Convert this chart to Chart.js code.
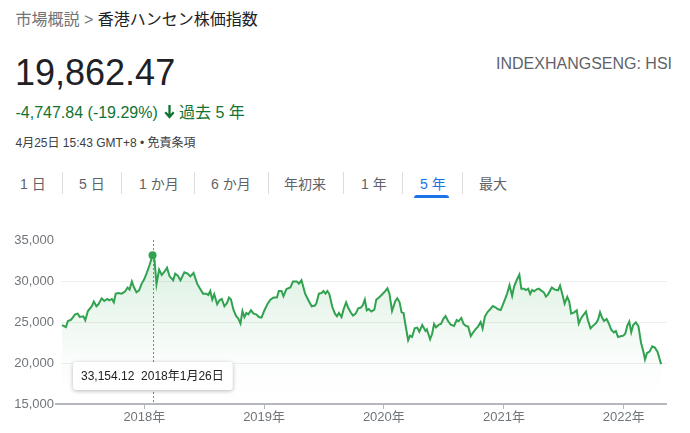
<!DOCTYPE html>
<html lang="ja">
<head>
<meta charset="utf-8">
<script src="https://cdn.jsdelivr.net/npm/chart.js@4/dist/chart.umd.min.js"></script>
<style>
  html,body{margin:0;padding:0;background:#fff;}
  body{width:690px;height:433px;overflow:hidden;position:relative;font-family:"Liberation Sans","Noto Sans CJK JP",sans-serif;}
  .t{position:absolute;white-space:nowrap;}
  .tab{position:absolute;white-space:nowrap;font-size:14px;line-height:14px;top:176.5px;color:#5f6368;}
  .sep{position:absolute;top:172px;width:1px;height:22px;background:#dadce0;}
  #chartBox{position:absolute;left:0;top:225px;width:690px;height:208px;}
</style>
</head>
<body>
<div class="t" style="left:15.5px;top:12px;font-size:16px;line-height:16px;"><span style="color:#70757a">市場概説</span><span style="color:#70757a"> &gt; </span><span style="color:#202124">香港ハンセン株価指数</span></div>

<div class="t" style="left:15px;top:55.3px;font-size:36px;line-height:36px;color:#202124;">19,862.47</div>
<div class="t" style="left:496px;top:56.2px;font-size:16px;line-height:16px;color:#5f6368;">INDEXHANGSENG: HSI</div>

<div class="t" style="left:15.5px;top:105px;font-size:16px;line-height:16px;color:#137333;">-4,747.84 (-19.29%)</div>
<svg style="position:absolute;left:163.5px;top:104px" width="11" height="15" viewBox="0 0 11 15"><path d="M5.5 1 V12.5 M1.3 8.3 L5.5 13 L9.7 8.3" stroke="#137333" stroke-width="2.3" fill="none"/></svg>
<div class="t" style="left:179px;top:105px;font-size:16px;line-height:16px;color:#137333;">過去 5 年</div>

<div class="t" style="left:15.5px;top:136.8px;font-size:12px;line-height:12px;color:#3c4043;">4月25日 15:43 GMT+8 • 免責条項</div>

<div class="tab" style="left:20px">1 日</div>
<div class="sep" style="left:62px"></div>
<div class="tab" style="left:79px">5 日</div>
<div class="sep" style="left:121px"></div>
<div class="tab" style="left:139px">1 か月</div>
<div class="sep" style="left:194px"></div>
<div class="tab" style="left:211px">6 か月</div>
<div class="sep" style="left:268px"></div>
<div class="tab" style="left:284px">年初来</div>
<div class="sep" style="left:343px"></div>
<div class="tab" style="left:361px">1 年</div>
<div class="sep" style="left:402px"></div>
<div class="tab" style="left:420px;color:#1a73e8">5 年</div>
<div class="sep" style="left:462px"></div>
<div class="tab" style="left:479px">最大</div>
<div style="position:absolute;left:414px;top:194.8px;width:35px;height:3px;background:#1a73e8;border-radius:3px 3px 0 0;"></div>

<div id="chartBox"><canvas id="c" width="690" height="208"></canvas></div>

<script>
// ---- data (weekly-ish closes) ----
const dates = [
"2017-04-25","2017-05-07","2017-05-13","2017-05-23","2017-06-04","2017-06-12","2017-06-18","2017-06-29","2017-07-05","2017-07-13",
"2017-07-25","2017-07-31","2017-08-08","2017-08-14","2017-08-24","2017-09-01","2017-09-10","2017-09-16","2017-09-24","2017-09-30",
"2017-10-06","2017-10-14","2017-10-24","2017-11-03","2017-11-11","2017-11-17","2017-11-24","2017-11-30","2017-12-08","2017-12-16",
"2017-12-24","2018-01-01","2018-01-09","2018-01-17","2018-01-26","2018-02-01","2018-02-07","2018-02-15","2018-02-23","2018-03-05",
"2018-03-11","2018-03-19","2018-03-30","2018-04-05","2018-04-13","2018-04-21",
"2018-05-03","2018-05-13","2018-05-21","2018-05-31","2018-06-11","2018-06-19","2018-06-29","2018-07-09","2018-07-15","2018-07-21",
"2018-07-27","2018-08-02","2018-08-11","2018-08-18","2018-08-25","2018-09-02","2018-09-10","2018-09-16","2018-09-22","2018-09-30",
"2018-10-08","2018-10-14","2018-10-21","2018-10-27","2018-11-02","2018-11-08","2018-11-14","2018-11-22","2018-11-30","2018-12-08",
"2018-12-16","2018-12-24","2019-01-02","2019-01-12","2019-01-20","2019-01-30","2019-02-09","2019-02-15","2019-02-23","2019-03-01",
"2019-03-10","2019-03-22","2019-03-30","2019-04-11","2019-04-17","2019-04-25",
"2019-05-06","2019-05-16","2019-05-26","2019-06-05","2019-06-09","2019-06-17","2019-06-25","2019-07-01","2019-07-07","2019-07-13",
"2019-07-19","2019-07-28","2019-08-05","2019-08-11","2019-08-17","2019-08-25","2019-08-31","2019-09-08","2019-09-14","2019-09-23",
"2019-09-29","2019-10-07","2019-10-15","2019-10-23","2019-10-29","2019-11-04","2019-11-10","2019-11-16","2019-11-24","2019-12-03",
"2019-12-09","2019-12-17","2019-12-25","2020-01-02","2020-01-12","2020-01-18","2020-01-26","2020-02-05","2020-02-11","2020-02-18",
"2020-02-24","2020-03-01","2020-03-07","2020-03-15","2020-03-21","2020-03-27","2020-04-04","2020-04-12","2020-04-18","2020-04-27",
"2020-05-07",
"2020-05-11","2020-05-21","2020-05-27","2020-06-02","2020-06-08","2020-06-17","2020-06-23","2020-07-01","2020-07-07","2020-07-15",
"2020-07-23","2020-08-02","2020-08-10","2020-08-16","2020-08-24","2020-08-31","2020-09-08","2020-09-14","2020-09-22","2020-09-30",
"2020-10-08","2020-10-14","2020-10-22","2020-10-28","2020-11-04","2020-11-12","2020-11-20","2020-11-28","2020-12-06","2020-12-14",
"2020-12-22","2020-12-28","2021-01-05","2021-01-11","2021-01-18","2021-01-26","2021-02-01","2021-02-09","2021-02-17","2021-02-23",
"2021-03-03","2021-03-09","2021-03-16","2021-03-22","2021-03-28","2021-04-03","2021-04-11","2021-04-17","2021-04-25","2021-05-03",
"2021-05-09","2021-05-15",
"2021-05-27","2021-06-05","2021-06-15","2021-06-21","2021-06-29","2021-07-05","2021-07-13","2021-07-19","2021-07-25","2021-08-03",
"2021-08-11","2021-08-17","2021-08-23","2021-08-31","2021-09-08","2021-09-14","2021-09-22","2021-09-30","2021-10-09","2021-10-15",
"2021-10-21","2021-10-27","2021-11-02","2021-11-10","2021-11-16","2021-11-24","2021-12-02","2021-12-08","2021-12-15","2021-12-23",
"2021-12-31","2022-01-06","2022-01-12","2022-01-18","2022-01-24","2022-01-30","2022-02-07","2022-02-15","2022-02-23","2022-03-01",
"2022-03-07","2022-03-13","2022-03-21","2022-03-29","2022-04-06","2022-04-14","2022-04-25"
];
const closes = [
24610,24390,25120,25290,25940,26020,25610,25700,25210,26340,
26920,27490,26920,27160,27890,27560,27810,27650,27810,27400,
28460,28540,28460,28710,29200,28950,29930,29270,28620,28870,
29680,30240,31060,31950,33154.12,32600,29600,31390,30730,31220,
31630,30570,30090,30900,30660,30090,
31060,30900,30570,30980,29680,29110,28460,28460,28290,28780,
27730,28380,27160,27650,27810,26920,27320,27980,27730,26430,
25700,25450,24810,26340,25610,26100,25940,26430,26020,25940,
25610,25540,26430,27240,27730,27980,27980,28780,28780,28130,
29020,29200,29930,29930,29680,30090,
28460,27650,26920,27000,27240,28460,28540,28780,28460,28780,
28380,26830,26020,25700,26100,25610,26510,27400,26760,26100,
25780,26020,26670,26760,27070,27730,26430,26590,26270,26510,
27730,27980,28290,28620,29110,28460,26340,27560,27890,27400,
26180,26100,24630,22770,23340,23170,24230,24320,23830,24630,
23900,
24110,22890,23540,24760,24350,24680,24760,25420,25730,25090,
24680,24510,25240,25090,25490,24760,24510,24440,23290,23780,
24200,24440,25000,24200,25660,26220,26550,26950,26790,26550,
26460,27040,27850,28500,29480,28170,29320,30120,30780,29070,
29070,28900,29070,28420,28900,28740,28990,29070,28830,28590,
28100,28340,
29200,28950,28870,29440,28220,27240,28050,27490,26020,26180,
26430,24810,25370,25850,26270,25210,24230,24560,24880,25290,
26180,25540,25120,25370,24880,24070,23740,23900,23170,23260,
23340,23590,24560,25050,23740,24630,24960,24480,22440,21550,
20420,21220,21390,22040,21880,21390,19862.47
];
const xTickYears = [2018, 2019, 2020, 2021, 2022];
const yTicks = [15000, 20000, 25000, 30000, 35000];

// ---- helpers ----
const toMs = s => Date.parse(s + "T00:00:00Z");
const points = dates.map((d, i) => ({ x: toMs(d), y: closes[i] }));
const peakIdx = closes.indexOf(Math.max(...closes));
const GREEN = "#31a24f";
const FONT = '"Liberation Sans", "Noto Sans CJK JP", sans-serif';

const peakPlugin = {
  id: "peak",
  beforeDatasetsDraw(chart) {
    const { ctx, chartArea } = chart;
    const pt = chart.getDatasetMeta(0).data[peakIdx];
    ctx.save();
    ctx.strokeStyle = "#80868b";
    ctx.lineWidth = 1;
    ctx.setLineDash([2, 2]);
    const x = Math.round(pt.x) + 0.5;
    ctx.beginPath();
    ctx.moveTo(x, chartArea.top);
    ctx.lineTo(x, chartArea.bottom);
    ctx.stroke();
    ctx.restore();
  },
  afterDraw(chart) {
    const { ctx, chartArea } = chart;
    const pt = chart.getDatasetMeta(0).data[peakIdx];
    ctx.save();
    // base axis line
    ctx.strokeStyle = "#b5b9bd";
    ctx.lineWidth = 2;
    ctx.beginPath();
    ctx.moveTo(chartArea.left - 6, chartArea.bottom);
    ctx.lineTo(chartArea.right, chartArea.bottom);
    ctx.stroke();
    // tooltip box
    const d = new Date(toMs(dates[peakIdx]));
    const valTxt = closes[peakIdx].toLocaleString("en-US", { minimumFractionDigits: 2, maximumFractionDigits: 2 });
    const dateTxt = d.getUTCFullYear() + "年" + (d.getUTCMonth() + 1) + "月" + d.getUTCDate() + "日";
    const txt = valTxt + "  " + dateTxt;
    ctx.font = "12px " + FONT;
    const w = ctx.measureText(txt).width + 17;
    const h = 28;
    const bx = Math.round(pt.x - w / 2);
    const by = Math.round(chartArea.bottom - 14 - h);
    ctx.shadowColor = "rgba(0,0,0,0.28)";
    ctx.shadowBlur = 4;
    ctx.shadowOffsetY = 1;
    ctx.fillStyle = "#fff";
    ctx.beginPath();
    ctx.roundRect(bx, by, w, h, 3);
    ctx.fill();
    ctx.shadowColor = "transparent";
    ctx.fillStyle = "#202124";
    ctx.textBaseline = "middle";
    ctx.fillText(txt, bx + 8, by + h / 2 + 0.5);
    ctx.restore();
  }
};

new Chart(document.getElementById("c"), {
  type: "line",
  data: {
    datasets: [{
      data: points,
      borderColor: GREEN,
      borderWidth: 2,
      tension: 0,
      fill: "start",
      backgroundColor: (c) => {
        const { chart } = c;
        const area = chart.chartArea;
        if (!area) return "rgba(52,168,83,0.1)";
        const g = chart.ctx.createLinearGradient(0, area.top, 0, area.bottom);
        g.addColorStop(0, "rgba(52,168,83,0.20)");
        g.addColorStop(0.75, "rgba(52,168,83,0.02)");
        g.addColorStop(1, "rgba(52,168,83,0)");
        return g;
      },
      pointRadius: (c) => (c.dataIndex === peakIdx ? 4 : 0),
      pointBackgroundColor: GREEN,
      pointBorderWidth: 0,
      pointHoverRadius: 0
    }]
  },
  options: {
    responsive: false,
    animation: false,
    events: [],
    layout: { padding: { top: 15, right: 23, left: 0, bottom: 0 } },
    plugins: { legend: { display: false }, tooltip: { enabled: false } },
    scales: {
      x: {
        type: "linear",
        min: Date.UTC(2017, 3, 22),
        max: Date.UTC(2022, 4, 13),
        afterBuildTicks: (s) => { s.ticks = xTickYears.map(y => ({ value: Date.UTC(y, 0, 1) })); },
        afterFit: (s) => { s.height = 29; },
        ticks: {
          autoSkip: false, maxRotation: 0, padding: 1,
          color: "#70757a",
          font: { family: FONT, size: 13 },
          callback: (v) => new Date(v).getUTCFullYear() + "年"
        },
        grid: { drawOnChartArea: false, drawTicks: true, tickLength: 5, color: "#b5b9bd" },
        border: { display: false }
      },
      y: {
        min: yTicks[0],
        max: yTicks[yTicks.length - 1],
        afterBuildTicks: (s) => { s.ticks = yTicks.map(v => ({ value: v })); },
        afterFit: (s) => { s.width = 61; },
        ticks: {
          padding: 7,
          color: "#70757a",
          font: { family: FONT, size: 13 },
          callback: (v) => v.toLocaleString("en-US")
        },
        grid: {
          drawTicks: false,
          color: (c) => (c.tick && (c.tick.value === yTicks[0] || c.tick.value === yTicks[yTicks.length - 1]) ? "rgba(0,0,0,0)" : "#eeeff0")
        },
        border: { display: false }
      }
    }
  },
  plugins: [peakPlugin]
});
</script>
</body>
</html>
